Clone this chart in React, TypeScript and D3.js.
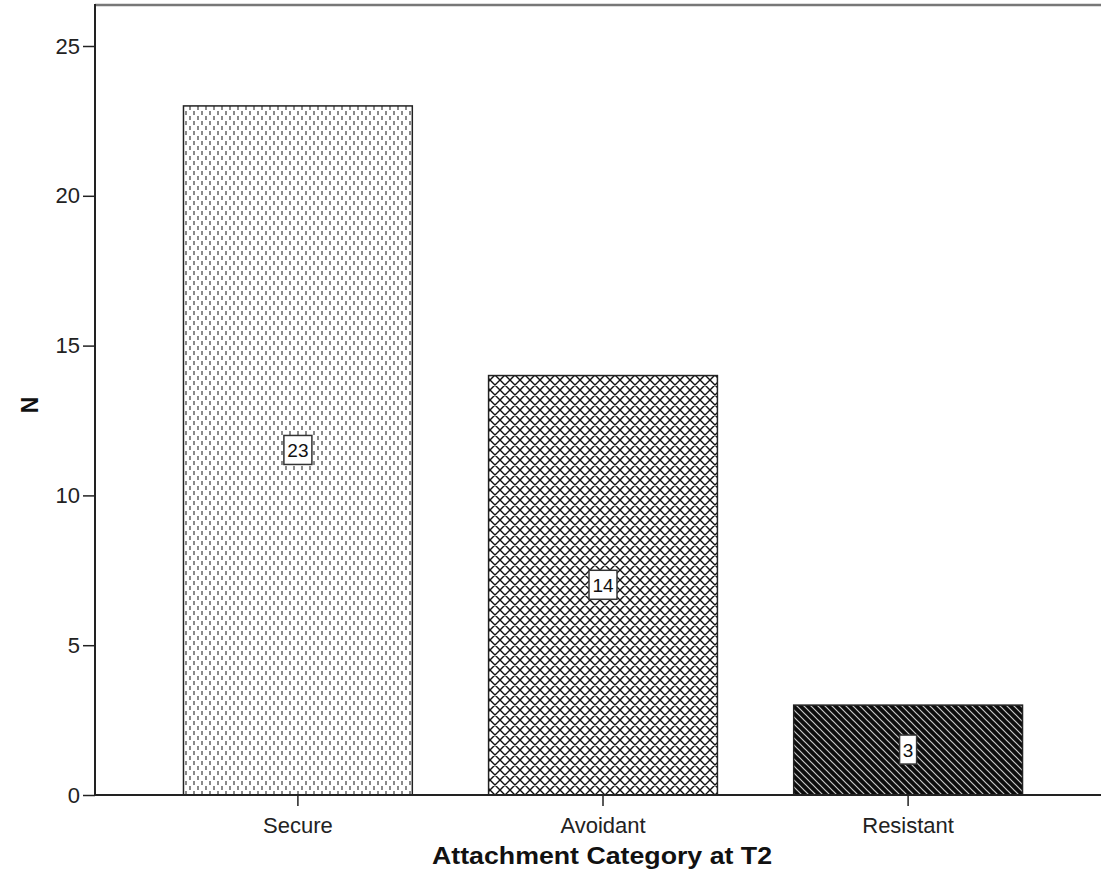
import { useEffect, useRef } from "react";
import * as d3 from "d3";

const categories = ["Secure", "Avoidant", "Resistant"];
const counts = [23, 14, 3];
const yTicks = [0, 5, 10, 15, 20, 25];
const patternIds = ["patSecure", "patAvoidant", "patResistant"];

const FONT = "Liberation Sans, Arial, sans-serif";

export default function App() {
  const svgRef = useRef<SVGSVGElement | null>(null);

  useEffect(() => {
    const svg = d3.select(svgRef.current);
    svg.selectAll("*").remove();

    const W = 1101;
    const H = 886;
    const left = 95;
    const top = 5;
    const bottom = 795;

    const y = d3.scaleLinear().domain([0, 25]).range([bottom, 46]);
    const x = d3
      .scaleBand<string>()
      .domain(categories)
      .range([left, 1111])
      .paddingInner(0.25)
      .paddingOuter(0.29);

    const defs = svg.append("defs");

    // fine dots
    const p1 = defs
      .append("pattern")
      .attr("id", patternIds[0])
      .attr("patternUnits", "userSpaceOnUse")
      .attr("width", 8)
      .attr("height", 10);
    p1.append("rect").attr("width", 8).attr("height", 10).attr("fill", "#fff");
    p1.append("rect").attr("x", 1).attr("y", 1).attr("width", 2).attr("height", 4).attr("fill", "#8a8a8a");
    p1.append("rect").attr("x", 5).attr("y", 6).attr("width", 2).attr("height", 4).attr("fill", "#8a8a8a");

    // crosshatch
    const p2 = defs
      .append("pattern")
      .attr("id", patternIds[1])
      .attr("patternUnits", "userSpaceOnUse")
      .attr("width", 10)
      .attr("height", 10);
    p2.append("rect").attr("width", 10).attr("height", 10).attr("fill", "#fff");
    p2.append("path")
      .attr("d", "M-1,1 L1,-1 M0,10 L10,0 M9,11 L11,9 M-1,9 L1,11 M0,0 L10,10 M9,-1 L11,1")
      .attr("stroke", "#111")
      .attr("stroke-width", 1.4);

    // dark diagonal
    const p3 = defs
      .append("pattern")
      .attr("id", patternIds[2])
      .attr("patternUnits", "userSpaceOnUse")
      .attr("width", 7)
      .attr("height", 7);
    p3.append("rect").attr("width", 7).attr("height", 7).attr("fill", "#0d0d0d");
    p3.append("path")
      .attr("d", "M-1,-1 L8,8 M-1,6 L1,8 M6,-1 L8,1")
      .attr("stroke", "#c8c8c8")
      .attr("stroke-width", 1.2);

    // frame top
    svg
      .append("line")
      .attr("x1", left)
      .attr("x2", W)
      .attr("y1", top)
      .attr("y2", top)
      .attr("stroke", "#777")
      .attr("stroke-width", 2.5);

    // bars
    const g = svg.append("g");
    categories.forEach((c, i) => {
      g.append("rect")
        .attr("x", x(c)!)
        .attr("y", y(counts[i]))
        .attr("width", x.bandwidth())
        .attr("height", bottom - y(counts[i]))
        .attr("fill", `url(#${patternIds[i]})`)
        .attr("stroke", "#222")
        .attr("stroke-width", 1.5);
    });

    // value labels
    categories.forEach((c, i) => {
      const cx = x(c)! + x.bandwidth() / 2;
      const cy = y(counts[i] / 2);
      const txt = String(counts[i]);
      const bw = txt.length * 11 + 6;
      g.append("rect")
        .attr("x", cx - bw / 2)
        .attr("y", cy - 15)
        .attr("width", bw)
        .attr("height", 29)
        .attr("fill", "#fff")
        .attr("stroke", "#333")
        .attr("stroke-width", 1.5);
      g.append("text")
        .attr("x", cx)
        .attr("y", cy + 7)
        .attr("text-anchor", "middle")
        .attr("font-family", FONT)
        .attr("font-size", 19)
        .attr("fill", "#111")
        .text(txt);
    });

    // y axis
    const yAxis = svg
      .append("g")
      .attr("transform", `translate(${left},0)`)
      .call(d3.axisLeft(y).tickValues(yTicks).tickSize(12).tickPadding(3).tickSizeOuter(0));
    yAxis.select(".domain").remove();
    yAxis.selectAll(".tick line").attr("stroke", "#222").attr("stroke-width", 1.5);
    yAxis
      .selectAll(".tick text")
      .attr("font-family", FONT)
      .attr("font-size", 22)
      .attr("fill", "#222");
    svg
      .append("line")
      .attr("x1", left)
      .attr("x2", left)
      .attr("y1", top - 1)
      .attr("y2", bottom)
      .attr("stroke", "#222")
      .attr("stroke-width", 2);

    // x axis
    const xAxis = svg
      .append("g")
      .attr("transform", `translate(0,${bottom})`)
      .call(d3.axisBottom(x).tickSize(11).tickPadding(11).tickSizeOuter(0));
    xAxis.select(".domain").remove();
    xAxis.selectAll(".tick line").attr("stroke", "#222").attr("stroke-width", 1.5);
    xAxis
      .selectAll(".tick text")
      .attr("font-family", FONT)
      .attr("font-size", 22)
      .attr("fill", "#222");
    svg
      .append("line")
      .attr("x1", left)
      .attr("x2", W)
      .attr("y1", bottom)
      .attr("y2", bottom)
      .attr("stroke", "#222")
      .attr("stroke-width", 2);

    // titles
    svg
      .append("text")
      .attr("x", 602)
      .attr("y", 864)
      .attr("text-anchor", "middle")
      .attr("font-family", FONT)
      .attr("font-weight", "bold")
      .attr("font-size", 23)
      .attr("textLength", 340)
      .attr("lengthAdjust", "spacingAndGlyphs")
      .attr("fill", "#111")
      .text("Attachment Category at T2");
    svg
      .append("text")
      .attr("transform", `translate(38,405) rotate(-90)`)
      .attr("text-anchor", "middle")
      .attr("font-family", FONT)
      .attr("font-weight", "bold")
      .attr("font-size", 23)
      .attr("fill", "#111")
      .text("N");

    svg.attr("width", W).attr("height", H);
  }, []);

  return (
    <div style={{ position: "absolute", left: 0, top: 0 }}>
      <svg ref={svgRef} width={1101} height={886} style={{ display: "block" }} />
    </div>
  );
}
